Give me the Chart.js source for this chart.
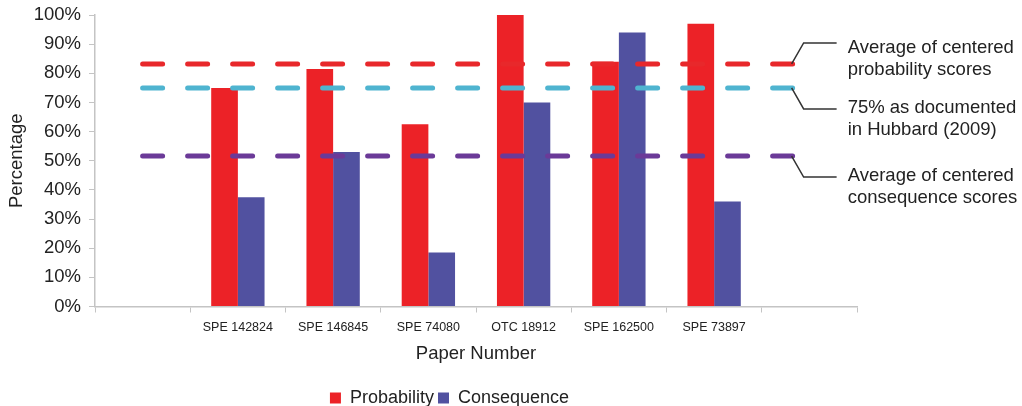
<!DOCTYPE html>
<html lang="en">
<head>
  <meta charset="UTF-8" />
  <title>Probability and Consequence by Paper</title>
  <script src="https://cdn.jsdelivr.net/npm/chart.js"></script>
  <style>
    body { margin: 0; background: #fff; }
    canvas { display: block; }
  </style>
</head>
<body>
  <canvas id="paperChart" width="1022" height="406"></canvas>

  <script>
    // Data (first and last slots are empty on purpose)
    const papers = ["", "SPE 142824", "SPE 146845", "SPE 74080", "OTC 18912", "SPE 162500", "SPE 73897", ""];
    const probability = [null, 75, 81.5, 62.5, 100, 84, 97, null];
    const consequence = [null, 37.5, 53, 18.5, 70, 94, 36, null];

    // Reference levels (percent) and their labels
    const levelValues = [83.2, 75, 51.6];
    const levelLabels = [
      ["Average of centered", "probability scores"],
      ["75% as documented", "in Hubbard (2009)"],
      ["Average of centered", "consequence scores"]
    ];
    const levelSpan = [0, 6.84]; // in category units
    const yTicks = [0, 10, 20, 30, 40, 50, 60, 70, 80, 90, 100];

    const colors = {
      prob: "#ec2227",
      cons: "#5151a0",
      levels: ["#e8282b", "#4fb4d0", "#6b3a98"],
      axis: "#c4c4c4",
      text: "#222"
    };

    Chart.defaults.font.family = "'Liberation Sans', Arial, sans-serif";
    Chart.defaults.color = colors.text;

    // dashed reference lines with callouts, positioned through the chart scales
    const levelPlugin = {
      id: "levels",
      afterDatasetsDraw(chart) {
        const ctx = chart.ctx;
        const xs = chart.scales.xl, ys = chart.scales.y;
        const dirs = [-1, 1, 1];
        ctx.save();
        levelValues.forEach((v, i) => {
          const xa = xs.getPixelForValue(levelSpan[0]);
          const xb = xs.getPixelForValue(levelSpan[1]);
          const y0 = ys.getPixelForValue(v);

          ctx.strokeStyle = colors.levels[i];
          ctx.lineWidth = 5;
          ctx.lineCap = "round";
          ctx.setLineDash([20, 25]);
          ctx.beginPath();
          ctx.moveTo(xa, y0);
          ctx.lineTo(xb, y0);
          ctx.stroke();

          const x0 = xb + 2.5;
          const by = y0 + dirs[i] * 21;
          ctx.setLineDash([]);
          ctx.lineCap = "butt";
          ctx.strokeStyle = "#333";
          ctx.lineWidth = 1.5;
          ctx.beginPath();
          ctx.moveTo(x0 - 5, y0);
          ctx.lineTo(x0 + 7, by);
          ctx.lineTo(x0 + 40, by);
          ctx.stroke();

          ctx.fillStyle = colors.text;
          ctx.font = "18.5px 'Liberation Sans', Arial, sans-serif";
          ctx.textBaseline = "middle";
          ctx.textAlign = "left";
          const ty = by + (dirs[i] < 0 ? 5 : -1);
          levelLabels[i].forEach((t, k) => ctx.fillText(t, x0 + 51, ty + k * 22));
        });
        ctx.restore();
      }
    };

    new Chart(document.getElementById("paperChart"), {
      type: "bar",
      data: {
        labels: papers,
        datasets: [
          {
            label: "Probability",
            data: probability,
            backgroundColor: colors.prob
          },
          {
            label: "Consequence",
            data: consequence,
            backgroundColor: colors.cons
          }
        ]
      },
      options: {
        responsive: false,
        animation: false,
        devicePixelRatio: 1,
        categoryPercentage: 0.56,
        barPercentage: 1.0,
        layout: { padding: { top: 15, right: 123, left: 0, bottom: -11 } },
        plugins: {
          legend: {
            position: "bottom",
            labels: {
              boxWidth: 11,
              boxHeight: 11,
              padding: 4,
              font: { size: 18 },
              color: colors.text
            }
          },
          tooltip: { enabled: false }
        },
        scales: {
          x: {
            offset: true,
            grid: {
              offset: true,
              drawOnChartArea: false,
              drawTicks: true,
              tickLength: 6,
              color: colors.axis
            },
            border: { color: colors.axis, width: 1.5 },
            ticks: { font: { size: 12.5 }, color: colors.text, padding: 8, maxRotation: 0, autoSkip: false },
            title: {
              display: true,
              text: "Paper Number",
              font: { size: 18.5 },
              color: colors.text,
              padding: { top: 0, bottom: 20 }
            },
            afterFit: s => { s.height = 78.5; s.paddingLeft = 0; s.paddingRight = 0; }
          },
          xl: {
            type: "linear",
            display: false,
            offset: false,
            min: -0.5,
            max: papers.length - 0.5
          },
          y: {
            min: 0,
            max: 100,
            afterBuildTicks: s => { s.ticks = yTicks.map(v => ({ value: v })); },
            grid: {
              drawOnChartArea: false,
              drawTicks: true,
              tickLength: 6,
              color: colors.axis
            },
            border: { color: colors.axis, width: 1.5 },
            ticks: {
              font: { size: 18.5 },
              color: colors.text,
              padding: 8,
              callback: v => v + "%"
            },
            title: {
              display: true,
              text: "Percentage",
              font: { size: 18.5 },
              color: colors.text,
              padding: { top: 6, bottom: 0 }
            },
            afterFit: s => { s.width = 95; s.paddingTop = 0; s.paddingBottom = 0; }
          },
          yR: {
            type: "linear",
            position: "right",
            display: true,
            grid: { display: false },
            border: { display: false },
            ticks: { display: false },
            afterFit: s => { s.width = 42; s.paddingTop = 0; s.paddingBottom = 0; }
          }
        }
      },
      plugins: [levelPlugin]
    });
  </script>
</body>
</html>
